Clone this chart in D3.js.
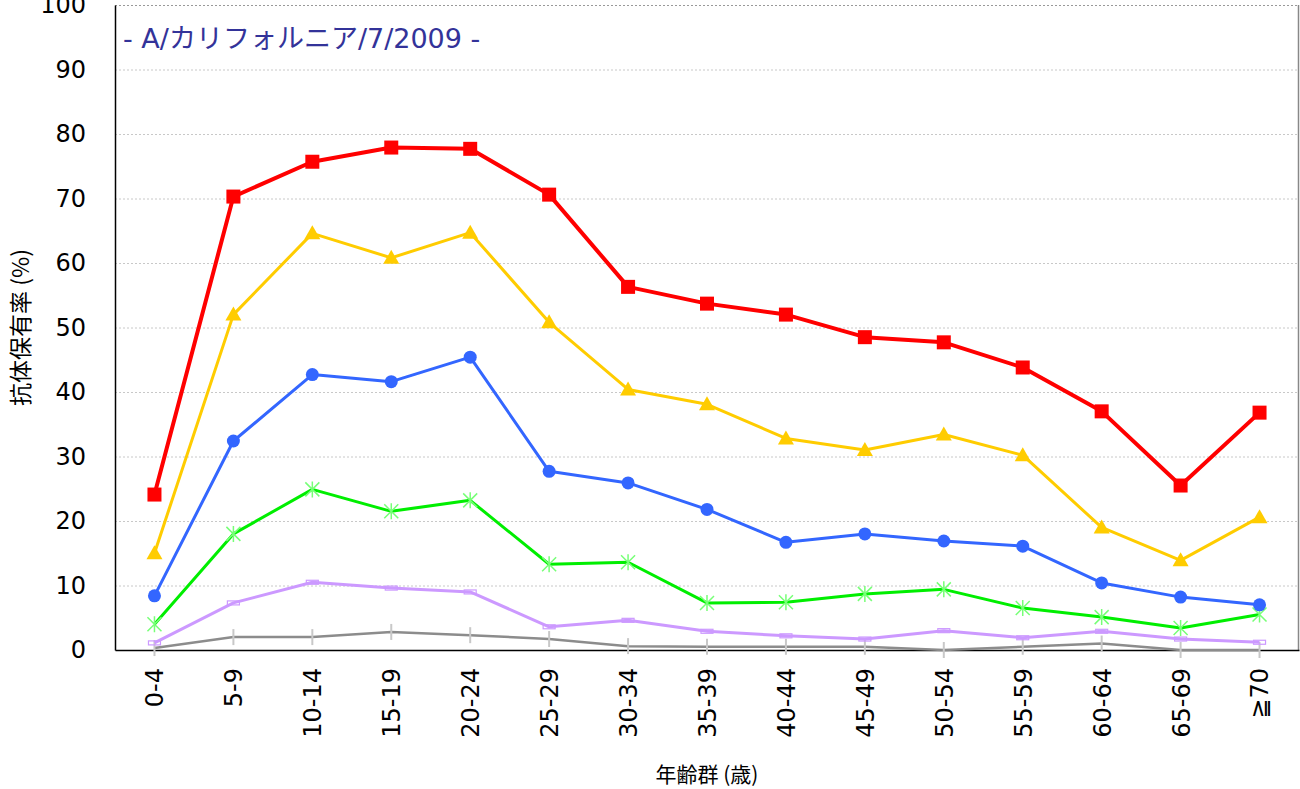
<!DOCTYPE html>
<html>
<head>
<meta charset="utf-8">
<script src="https://cdn.jsdelivr.net/npm/d3@7"></script>
<style>
    body { margin: 0; background: #fff; }
    svg text { font-family: "DejaVu Sans", "Noto Sans CJK JP", sans-serif; }
</style>
</head>
<body>
<div class="chart"></div>
<script>
const ageGroups = ['0-4', '5-9', '10-14', '15-19', '20-24', '25-29', '30-34', '35-39',
    '40-44', '45-49', '50-54', '55-59', '60-64', '65-69', '≧70']
const yTicks = [0, 10, 20, 30, 40, 50, 60, 70, 80, 90, 100]

// antibody titer thresholds, from high to low prevalence
const red = [24.1, 70.3, 75.7, 77.9, 77.7, 70.6, 56.3, 53.7, 52.0, 48.5, 47.7, 43.8, 37.0, 25.5, 36.8]
const yellow = [15.0, 52.0, 64.6, 60.8, 64.7, 50.8, 40.4, 38.1, 32.8, 31.0, 33.4, 30.2, 19.0, 13.9, 20.6]
const blue = [8.4, 32.4, 42.7, 41.6, 45.4, 27.7, 25.9, 21.8, 16.7, 18.0, 16.9, 16.1, 10.4, 8.2, 7.0]
const green = [4.0, 18.0, 24.9, 21.5, 23.2, 13.3, 13.6, 7.3, 7.4, 8.7, 9.4, 6.5, 5.1, 3.4, 5.5]
const purple = [1.1, 7.3, 10.5, 9.6, 9.0, 3.6, 4.6, 2.9, 2.2, 1.7, 3.0, 1.9, 2.9, 1.7, 1.2]
const gray = [0.3, 2.0, 2.0, 2.8, 2.3, 1.7, 0.6, 0.5, 0.5, 0.5, 0.0, 0.5, 1.0, 0.0, 0.0]

const width = 1300
const height = 789
const margin = { top: 5, right: 1, bottom: 139, left: 115 }

const svg = d3.select('.chart').append('svg')
    .attr('width', width)
    .attr('height', height)

const x = d3.scalePoint()
    .domain(ageGroups)
    .range([margin.left, width - margin.right])
    .padding(0.5)

const y = d3.scaleLinear()
    .domain([0, 100])
    .range([height - margin.bottom, margin.top])

// grid
svg.append('g')
    .selectAll('line')
    .data(yTicks.slice(1))
    .enter()
    .append('line')
    .attr('x1', margin.left)
    .attr('x2', width - margin.right)
    .attr('y1', d => y(d) + 0.5)
    .attr('y2', d => y(d) + 0.5)
    .attr('stroke', d => d === 100 ? '#999' : '#c8c8c8')
    .attr('stroke-dasharray', '2,2')

svg.append('line')
    .attr('x1', width - margin.right - 0.5)
    .attr('x2', width - margin.right - 0.5)
    .attr('y1', margin.top)
    .attr('y2', y(0))
    .attr('stroke', '#888')
    .attr('stroke-width', 1.5)

// y axis
const yAxis = svg.append('g')
    .attr('transform', `translate(${margin.left},0)`)
    .call(d3.axisLeft(y).tickValues(yTicks).tickSize(0).tickPadding(29))
yAxis.select('.domain').attr('stroke', '#000').attr('stroke-width', 1.5)
yAxis.selectAll('text').attr('font-size', 24).attr('fill', '#000')
    .style('font-family', '"DejaVu Sans", sans-serif')

// x axis
const xAxis = svg.append('g')
    .attr('transform', `translate(0,${y(0)})`)
    .call(d3.axisBottom(x).tickSize(0).tickPadding(0))
xAxis.select('.domain').attr('stroke', '#000').attr('stroke-width', 1.5)
xAxis.selectAll('text')
    .attr('font-size', 24)
    .attr('fill', '#000')
    .attr('text-anchor', 'end')
    .attr('transform', 'rotate(-90)')
    .attr('x', -18)
    .attr('y', 0)
    .attr('dy', '0.35em')

svg.append('text')
    .attr('x', (margin.left + width - margin.right) / 2)
    .attr('y', 782)
    .attr('text-anchor', 'middle')
    .attr('font-size', 21)
    .style('font-family', '"Noto Sans CJK JP", sans-serif')
    .text('年齢群 (歳)')

svg.append('text')
    .attr('transform', `translate(29,${(margin.top + y(0)) / 2}) rotate(-90)`)
    .attr('text-anchor', 'middle')
    .attr('font-size', 23)
    .style('font-family', '"Noto Sans CJK JP", sans-serif')
    .text('抗体保有率 (%)')

svg.append('text')
    .attr('x', 123)
    .attr('y', 48)
    .attr('font-size', 27)
    .attr('fill', '#333399')
    .text('- A/カリフォルニア/7/2009 -')

const line = d3.line()
    .x((d, i) => x(ageGroups[i]))
    .y(d => y(d))

const series = [
    { values: gray, color: '#8c8c8c', width: 2.5, marker: 'vbar', markerColor: '#c8c8c8' },
    { values: purple, color: '#cc99ff', width: 3, marker: 'rect', markerColor: '#cc99ff' },
    { values: green, color: '#00ee00', width: 3, marker: 'star', markerColor: '#77ff77' },
    { values: blue, color: '#3366ff', width: 3, marker: 'circle', markerColor: '#3366ff' },
    { values: yellow, color: '#ffcc00', width: 3, marker: 'triangle', markerColor: '#ffcc00' },
    { values: red, color: '#ff0000', width: 4, marker: 'square', markerColor: '#ff0000' }
]

const plot = svg.append('g')

series.forEach(s => {
    plot.append('path')
        .datum(s.values)
        .attr('d', line)
        .attr('fill', 'none')
        .attr('stroke', s.color)
        .attr('stroke-width', s.width)
        .attr('stroke-linejoin', 'round')

    const marks = plot.append('g')
        .selectAll('g')
        .data(s.values)
        .enter()
        .append('g')
        .attr('transform', (d, i) => `translate(${x(ageGroups[i])},${y(d)})`)

    if (s.marker === 'square') {
        marks.append('rect')
            .attr('x', -7).attr('y', -7).attr('width', 14).attr('height', 14)
            .attr('fill', s.markerColor)
    } else if (s.marker === 'triangle') {
        marks.append('path')
            .attr('d', 'M0,-8L8,6L-8,6Z')
            .attr('fill', s.markerColor)
    } else if (s.marker === 'circle') {
        marks.append('circle')
            .attr('r', 6.5)
            .attr('fill', s.markerColor)
    } else if (s.marker === 'star') {
        marks.append('path')
            .attr('d', 'M-7,-7L7,7M-7,7L7,-7M0,-8L0,8')
            .attr('stroke', s.markerColor)
            .attr('stroke-width', 1.5)
    } else if (s.marker === 'rect') {
        marks.append('rect')
            .attr('x', -6).attr('y', -2).attr('width', 12).attr('height', 4)
            .attr('fill', 'none')
            .attr('stroke', s.markerColor)
            .attr('stroke-width', 1.2)
    } else if (s.marker === 'vbar') {
        marks.append('line')
            .attr('y1', -8).attr('y2', 8)
            .attr('stroke', s.markerColor)
            .attr('stroke-width', 2)
    }
})
</script>
</body>
</html>
